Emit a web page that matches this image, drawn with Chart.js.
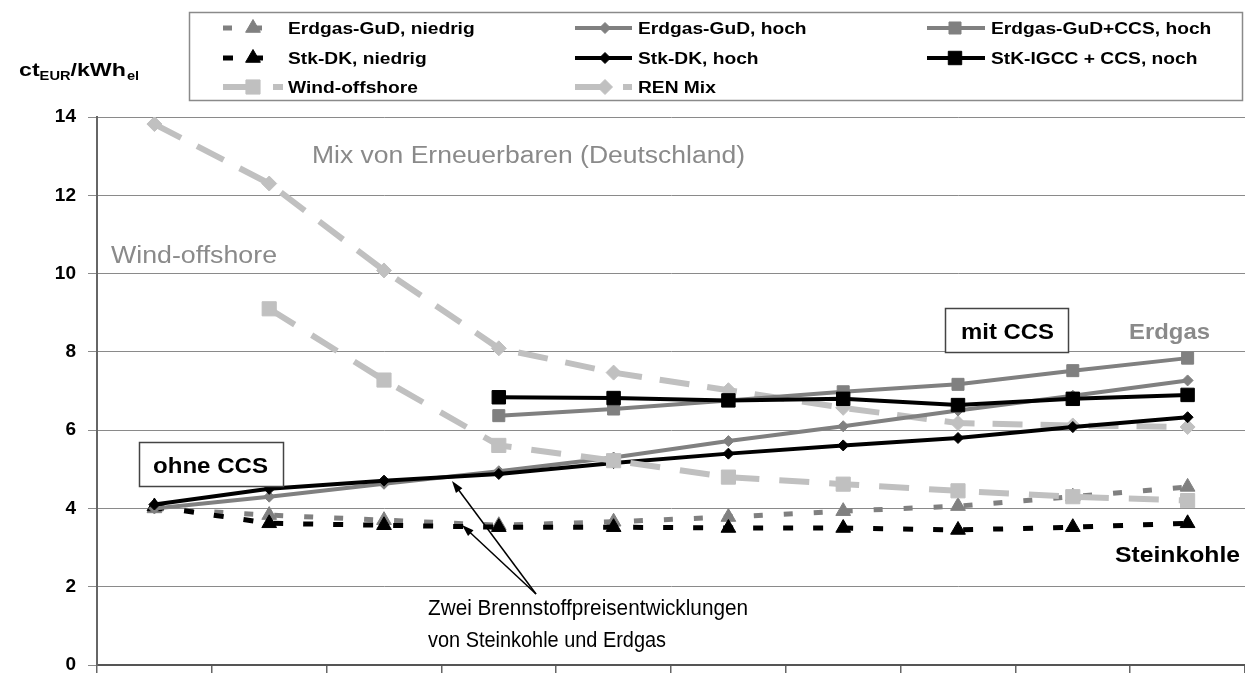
<!DOCTYPE html>
<html>
<head>
<meta charset="utf-8">
<script src="https://cdn.jsdelivr.net/npm/chart.js@4/dist/chart.umd.min.js"></script>
<style>
  html, body { margin: 0; padding: 0; background: #fff; }
  canvas { display: block; }
</style>
</head>
<body>
<canvas id="chart" width="1245" height="673"></canvas>
<script>
// Stages along the horizontal axis (no labels are printed)
const stages = ['1', '2', '3', '4', '5', '6', '7', '8', '9', '10'];

// Stromgestehungskosten in ct/kWh_el
const erdgasGudNiedrig = [4.0, 3.83, 3.7, 3.57, 3.66, 3.78, 3.93, 4.06, 4.3, 4.55];
const erdgasGudHoch    = [4.0, 4.3, 4.63, 4.95, 5.3, 5.72, 6.1, 6.5, 6.88, 7.27];
const erdgasGudCcsHoch = [null, null, null, 6.37, 6.54, 6.76, 6.98, 7.17, 7.52, 7.84];
const stkDkNiedrig     = [4.05, 3.62, 3.57, 3.52, 3.52, 3.5, 3.5, 3.45, 3.52, 3.62];
const stkDkHoch        = [4.1, 4.5, 4.71, 4.88, 5.16, 5.4, 5.61, 5.8, 6.08, 6.33];
const stkIgccCcs       = [null, null, null, 6.84, 6.82, 6.76, 6.8, 6.64, 6.8, 6.9];
const windOffshore     = [null, 9.1, 7.28, 5.61, 5.22, 4.8, 4.62, 4.45, 4.3, 4.2];
const renMix           = [13.82, 12.3, 10.08, 8.09, 7.47, 7.02, 6.57, 6.18, 6.12, 6.08];

// Value axis ticks
const yTickValues = [0, 2, 4, 6, 8, 10, 12, 14];

const FONT = "'Liberation Sans', Arial, sans-serif";
const BLACK = '#000000';
const GRAY = '#808080';
const LIGHT = '#c0c0c0';

function lineSet(label, data, color, width, dash, style, radius, order) {
  return {
    label, data,
    borderColor: color, backgroundColor: color,
    borderWidth: width, borderDash: dash,
    pointStyle: style, pointRadius: radius,
    pointBackgroundColor: color, pointBorderColor: color, pointBorderWidth: 1,
    pointHoverRadius: radius,
    tension: 0, fill: false, order
  };
}

// Legend order (row by row, three columns)
const datasets = [
  lineSet('Erdgas-GuD, niedrig', erdgasGudNiedrig, GRAY, 5, [9, 21], 'triangle', 8.5, 7),
  lineSet('Erdgas-GuD, hoch', erdgasGudHoch, GRAY, 4, [], 'rectRot', 5.5, 5),
  lineSet('Erdgas-GuD+CCS, hoch', erdgasGudCcsHoch, GRAY, 4, [], 'rect', 8.5, 4),
  lineSet('Stk-DK, niedrig', stkDkNiedrig, BLACK, 5, [10, 20], 'triangle', 8.5, 6),
  lineSet('Stk-DK, hoch', stkDkHoch, BLACK, 4, [], 'rectRot', 5.5, 3),
  lineSet('StK-IGCC + CCS, noch', stkIgccCcs, BLACK, 4, [], 'rect', 9.5, 2),
  lineSet('Wind-offshore', windOffshore, LIGHT, 6, [30, 20], 'rect', 10, 1),
  lineSet('REN Mix', renMix, LIGHT, 6, [30, 18], 'rectRot', 7.5, 8)
];

// Draws text stretched horizontally to a given width
function fitText(ctx, text, x, y, font, color, width) {
  ctx.save();
  ctx.font = font;
  ctx.fillStyle = color;
  ctx.textAlign = 'left';
  ctx.textBaseline = 'alphabetic';
  const w = ctx.measureText(text).width;
  ctx.translate(x, y);
  ctx.scale(width / w, 1);
  ctx.fillText(text, 0, 0);
  ctx.restore();
}

function stretchText(ctx, text, x, y, font, color, sx) {
  ctx.save();
  ctx.font = font;
  ctx.fillStyle = color;
  ctx.textAlign = 'left';
  ctx.textBaseline = 'alphabetic';
  const w = ctx.measureText(text).width * sx;
  ctx.translate(x, y);
  ctx.scale(sx, 1);
  ctx.fillText(text, 0, 0);
  ctx.restore();
  return w;
}

function arrow(ctx, x1, y1, x2, y2) {
  const a = Math.atan2(y2 - y1, x2 - x1);
  const len = 12, half = 4;
  ctx.save();
  ctx.strokeStyle = '#000';
  ctx.fillStyle = '#000';
  ctx.lineWidth = 1.5;
  ctx.beginPath();
  ctx.moveTo(x1, y1);
  ctx.lineTo(x2 - Math.cos(a) * len * 0.8, y2 - Math.sin(a) * len * 0.8);
  ctx.stroke();
  ctx.beginPath();
  ctx.moveTo(x2, y2);
  ctx.lineTo(x2 - Math.cos(a) * len - Math.sin(a) * half, y2 - Math.sin(a) * len + Math.cos(a) * half);
  ctx.lineTo(x2 - Math.cos(a) * len + Math.sin(a) * half, y2 - Math.sin(a) * len - Math.cos(a) * half);
  ctx.closePath();
  ctx.fill();
  ctx.restore();
}

function labelBox(ctx, x1, y1, x2, y2) {
  ctx.save();
  ctx.fillStyle = '#fff';
  ctx.fillRect(x1, y1, x2 - x1, y2 - y1);
  ctx.strokeStyle = '#444';
  ctx.lineWidth = 1.5;
  ctx.strokeRect(x1 + 0.5, y1 + 0.5, x2 - x1, y2 - y1);
  ctx.restore();
}

function noPadding(scale) {
  scale.paddingLeft = 0;
  scale.paddingRight = 0;
  scale.paddingTop = 0;
  scale.paddingBottom = 0;
}

const decorations = {
  id: 'decorations',
  afterDraw(chart) {
    const ctx = chart.ctx;

    // Unit label ct_EUR / kWh_el
    let x = 19;
    x += stretchText(ctx, 'ct', x, 76, `bold 19px ${FONT}`, '#000', 1.22);
    x += stretchText(ctx, 'EUR', x, 80, `bold 12px ${FONT}`, '#000', 1.22);
    x += stretchText(ctx, '/kWh', x, 76, `bold 19px ${FONT}`, '#000', 1.22);
    stretchText(ctx, 'el', x + 1, 80, `bold 12px ${FONT}`, '#000', 1.22);

    // Legend box
    ctx.save();
    ctx.strokeStyle = '#8a8a8a';
    ctx.lineWidth = 1.5;
    ctx.strokeRect(189.5, 12.5, 1053, 88);
    ctx.restore();

    const cols = [{ x1: 223, x2: 283, m: 253, t: 288 },
                  { x1: 575, x2: 632, m: 605, t: 638 },
                  { x1: 927, x2: 985, m: 955, t: 991 }];
    const rows = [28, 58, 87];
    chart.data.datasets.forEach((ds, i) => {
      const c = cols[i % 3], y = rows[Math.floor(i / 3)];
      ctx.save();
      ctx.strokeStyle = ds.borderColor;
      ctx.lineWidth = ds.borderWidth;
      ctx.setLineDash(ds.borderDash || []);
      ctx.beginPath();
      ctx.moveTo(c.x1, y);
      ctx.lineTo(c.x2, y);
      ctx.stroke();
      ctx.restore();
      ctx.save();
      ctx.fillStyle = ds.pointBackgroundColor;
      ctx.strokeStyle = ds.pointBorderColor;
      ctx.lineWidth = 1;
      Chart.helpers.drawPoint(ctx, { pointStyle: ds.pointStyle, radius: ds.pointRadius, rotation: 0, borderWidth: 1 }, c.m, y);
      ctx.restore();
      stretchText(ctx, ds.label, c.t, y + 6, `bold 16px ${FONT}`, '#000', 1.2);
    });

    // Annotations
    fitText(ctx, 'Mix von Erneuerbaren (Deutschland)', 312, 163, `23px ${FONT}`, '#8a8a8a', 433);
    fitText(ctx, 'Wind-offshore', 111, 263, `23px ${FONT}`, '#8a8a8a', 166);

    labelBox(ctx, 945, 308, 1068, 352);
    fitText(ctx, 'mit CCS', 961, 339, `bold 22px ${FONT}`, '#000', 93);
    fitText(ctx, 'Erdgas', 1129, 339, `bold 22px ${FONT}`, '#8a8a8a', 81);

    labelBox(ctx, 139, 442, 283, 486);
    fitText(ctx, 'ohne CCS', 153, 473, `bold 22px ${FONT}`, '#000', 115);

    fitText(ctx, 'Steinkohle', 1115, 562, `bold 22px ${FONT}`, '#000', 125);

    fitText(ctx, 'Zwei Brennstoffpreisentwicklungen', 428, 615, `22px ${FONT}`, '#000', 320);
    fitText(ctx, 'von Steinkohle und Erdgas', 428, 647, `22px ${FONT}`, '#000', 238);

    arrow(ctx, 536, 594, 452, 481);
    arrow(ctx, 536, 594, 462, 525);
  }
};

new Chart(document.getElementById('chart'), {
  type: 'line',
  data: { labels: stages, datasets },
  options: {
    responsive: false,
    devicePixelRatio: 1,
    animation: false,
    layout: { autoPadding: false, padding: { top: 117, left: 0, right: 0, bottom: 0 } },
    plugins: { legend: { display: false }, tooltip: { enabled: false } },
    scales: {
      x: {
        type: 'category',
        offset: true,
        grid: { display: true, offset: true, drawOnChartArea: false, drawTicks: true, tickLength: 8, color: '#666', lineWidth: 1.5 },
        border: { display: true, color: '#555', width: 2 },
        ticks: { display: false, padding: 0 },
        afterFit(scale) { scale.height = 8; noPadding(scale); }
      },
      y: {
        min: 0, max: 14,
        afterBuildTicks(scale) { scale.ticks = yTickValues.map(v => ({ value: v })); },
        ticks: {
          color: '#000',
          padding: 12,
          font: { family: FONT, size: 19, weight: 'bold' },
          callback: v => String(v)
        },
        grid: { color: '#8a8a8a', lineWidth: 1, tickLength: 9, drawTicks: true },
        border: { display: true, color: '#666', width: 2 },
        afterFit(scale) { scale.width = 97; noPadding(scale); }
      }
    }
  },
  plugins: [decorations]
});
</script>
</body>
</html>
